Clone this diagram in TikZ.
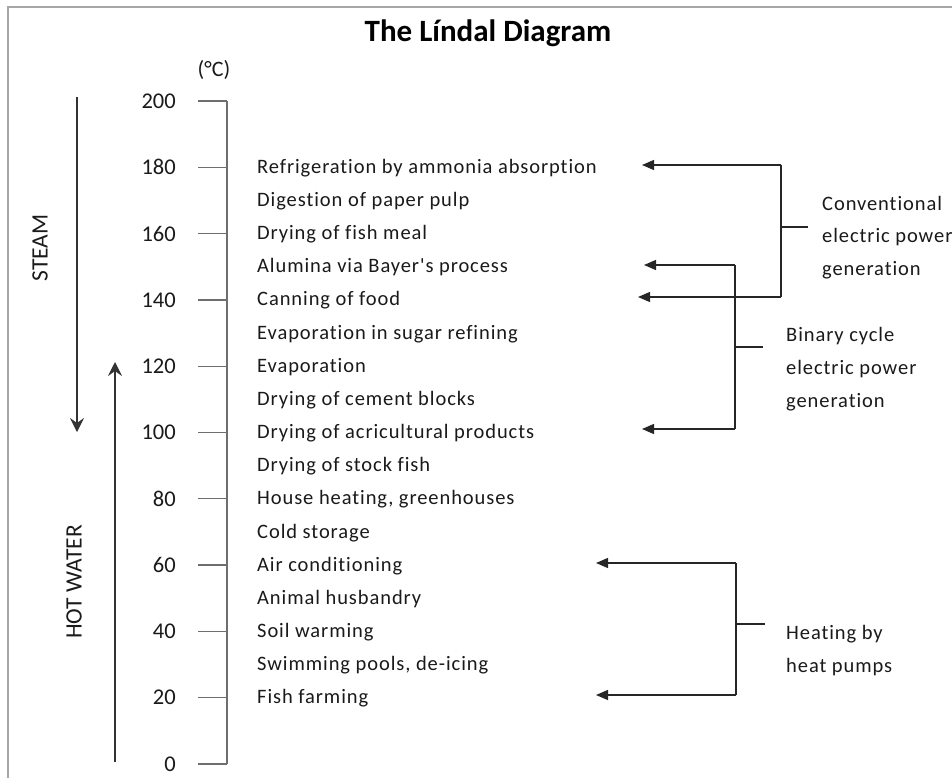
\documentclass[tikz,border=0pt]{standalone}
\usepackage{fontspec}
\setmainfont[Ligatures={NoCommon}]{Carlito}
\newfontfamily\spacedfont[Ligatures={NoCommon},LetterSpace=4.5]{Carlito}
\usetikzlibrary{arrows.meta}
\definecolor{axisgray}{HTML}{6E6E6E}
\definecolor{framegray}{HTML}{A6A6A6}
\definecolor{txt}{HTML}{1A1A1A}
\tikzset{
  lbl/.style={anchor=west, inner sep=0pt, text=txt, font=\spacedfont\fontsize{20.5}{24}\selectfont},
  num/.style={anchor=east, inner sep=0pt, text=txt, font=\fontsize{22.5}{26}\selectfont},
  side/.style={anchor=west, inner sep=0pt, text=txt, font=\spacedfont\fontsize{20.5}{24}\selectfont},
  vlab/.style={rotate=90, inner sep=0pt, text=txt, font=\fontsize{23.5}{26}\selectfont},
  tick/.style={axisgray, line width=1.3pt},
  brk/.style={black!85, line width=1.3pt},
  arr/.style={brk, -{Triangle[length=12pt,width=10pt]}},
  bigarr/.style={black!80, line width=1.3pt, -{Stealth[length=14pt,width=14pt,inset=5pt]}}
}
\begin{document}
\begin{tikzpicture}[x=1pt,y=-1pt]
\useasboundingbox (0,0) rectangle (952,778);
\fill[white] (0,0) rectangle (952,778);
% frame
\draw[framegray, line width=2.2pt] (8,778) -- (8,7) -- (952,7);
% title
\node[inner sep=0pt, text=black, font=\bfseries\fontsize{31}{34}\selectfont] (title) at (488,33) {The Líndal Diagram};
\node[inner sep=0pt, text=txt, font=\fontsize{22}{24}\selectfont] (unit) at (214,70) {(°C)};
% axis
\coordinate (atop) at (227,101);
\coordinate (abot) at (227,764);
\draw[tick] (atop) -- (abot);
\foreach \v [count=\i from 0] in {200,180,160,140,120,100,80,60,40,20,0}{
  \coordinate (t\v) at (227,{101+\i*66.3});
  \coordinate (tl\v) at (198,{101+\i*66.3});
  \draw[tick] (tl\v) -- (t\v);
  \node[num] (n\v) at (176,{101+\i*66.3}) {\v};
}
% steam / hot water arrows
\coordinate (s1) at (77,97);
\coordinate (s2) at (77,432);
\draw[bigarr] (s1) -- (s2);
\coordinate (h1) at (115,762);
\coordinate (h2) at (115,362);
\draw[bigarr] (h1) -- (h2);
\node[vlab] (steam) at (40,248) {STEAM};
\node[vlab] (hot) at (74,582) {HOT WATER};
% labels
\foreach \name/\txt [count=\i from 0] in {
  l180/Refrigeration by ammonia absorption,
  l170/Digestion of paper pulp,
  l160/Drying of fish meal,
  l150/Alumina via Bayer's process,
  l140/Canning of food,
  l130/Evaporation in sugar refining,
  l120/Evaporation,
  l110/Drying of cement blocks,
  l100/Drying of acricultural products,
  l90/Drying of stock fish,
  l80/{House heating, greenhouses},
  l70/Cold storage,
  l60/Air conditioning,
  l50/Animal husbandry,
  l40/Soil warming,
  l30/{Swimming pools, de-icing},
  l20/Fish farming}{
  \node[lbl] (\name) at (257,{168+\i*33.15}) {\txt};
}
% conventional
\coordinate (c1) at (781,165);
\coordinate (c2) at (781,297);
\coordinate (cs) at (781,227);
\coordinate (ce) at (808,227);
\coordinate (ct1) at (642,165);
\coordinate (ct2) at (638,297);
\draw[brk] (c1) -- (c2);
\draw[brk] (cs) -- (ce);
\draw[arr] (c1) -- (ct1);
\draw[arr] (c2) -- (ct2);
\node[side] (conv1) at (822,203) {Conventional};
\node[side] (conv2) at (822,237) {electric power};
\node[side] (conv3) at (822,270) {generation};
% binary
\coordinate (b1) at (735,265);
\coordinate (b2) at (735,429);
\coordinate (bs) at (735,347);
\coordinate (be) at (763,347);
\coordinate (bt1) at (644,265);
\coordinate (bt2) at (642,429);
\draw[brk] (b1) -- (b2);
\draw[brk] (bs) -- (be);
\draw[arr] (b1) -- (bt1);
\draw[arr] (b2) -- (bt2);
\node[side] (bin1) at (786,336) {Binary cycle};
\node[side] (bin2) at (786,369) {electric power};
\node[side] (bin3) at (786,402) {generation};
% heat pumps
\coordinate (p1) at (736,563);
\coordinate (p2) at (736,695);
\coordinate (ps) at (736,624);
\coordinate (pe) at (765,624);
\coordinate (pt1) at (596,563);
\coordinate (pt2) at (596,695);
\draw[brk] (p1) -- (p2);
\draw[brk] (ps) -- (pe);
\draw[arr] (p1) -- (pt1);
\draw[arr] (p2) -- (pt2);
\node[side] (hp1) at (786,634) {Heating by};
\node[side] (hp2) at (786,667) {heat pumps};
\end{tikzpicture}
\end{document}
